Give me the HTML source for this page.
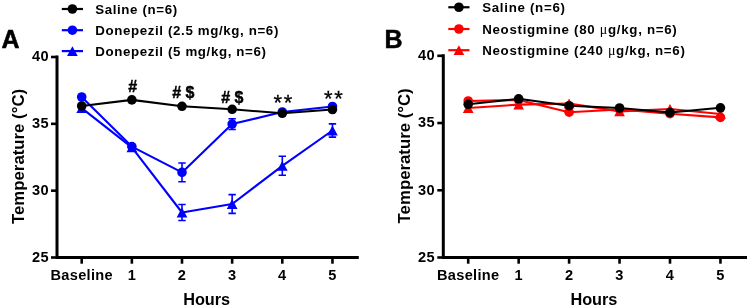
<!DOCTYPE html>
<html><head><meta charset="utf-8"><style>
html,body{margin:0;padding:0;background:#fff;}
svg{display:block;will-change:transform;}
text{font-family:"Liberation Sans",sans-serif;fill:#000;}
.tk{font-size:14.6px;font-weight:bold;letter-spacing:0.3px;}
.ht{font-size:16.3px;font-weight:bold;}
.yt{font-size:16.8px;font-weight:bold;}
.lg{font-size:13.3px;font-weight:bold;letter-spacing:0.63px;}
.mu{font-family:"Liberation Serif",serif;font-weight:normal;font-size:14px;}
.lgb{letter-spacing:0.7px;}
.pl{font-size:25px;font-weight:bold;stroke:#000;stroke-width:0.5px;}
.an{font-size:16px;font-weight:bold;stroke:#000;stroke-width:0.45px;}
.as{font-size:22px;letter-spacing:1.85px;stroke:#000;stroke-width:0.3px;}
</style></head><body>
<svg width="750" height="307" viewBox="0 0 750 307">
<path d="M57 55.5V257.5M55.5 257.5H358.8" stroke="#000" stroke-width="3" fill="none"/>
<path d="M51 57.00H57" stroke="#000" stroke-width="2.6"/>
<text transform="translate(48.80 61.40) scale(1.0 1.04)" class="tk" text-anchor="end">40</text>
<path d="M51 123.83H57" stroke="#000" stroke-width="2.6"/>
<text transform="translate(48.80 128.23) scale(1.0 1.04)" class="tk" text-anchor="end">35</text>
<path d="M51 190.67H57" stroke="#000" stroke-width="2.6"/>
<text transform="translate(48.80 195.07) scale(1.0 1.04)" class="tk" text-anchor="end">30</text>
<path d="M51 257.50H57" stroke="#000" stroke-width="2.6"/>
<text transform="translate(48.80 261.90) scale(1.0 1.04)" class="tk" text-anchor="end">25</text>
<path d="M81.70 257.5V263.7" stroke="#000" stroke-width="2.6"/>
<text transform="translate(81.70 280.00) scale(1.0 1.04)" class="tk" text-anchor="middle">Baseline</text>
<path d="M131.85 257.5V263.7" stroke="#000" stroke-width="2.6"/>
<text transform="translate(131.85 280.00) scale(1.0 1.04)" class="tk" text-anchor="middle">1</text>
<path d="M182.00 257.5V263.7" stroke="#000" stroke-width="2.6"/>
<text transform="translate(182.00 280.00) scale(1.0 1.04)" class="tk" text-anchor="middle">2</text>
<path d="M232.15 257.5V263.7" stroke="#000" stroke-width="2.6"/>
<text transform="translate(232.15 280.00) scale(1.0 1.04)" class="tk" text-anchor="middle">3</text>
<path d="M282.30 257.5V263.7" stroke="#000" stroke-width="2.6"/>
<text transform="translate(282.30 280.00) scale(1.0 1.04)" class="tk" text-anchor="middle">4</text>
<path d="M332.45 257.5V263.7" stroke="#000" stroke-width="2.6"/>
<text transform="translate(332.45 280.00) scale(1.0 1.04)" class="tk" text-anchor="middle">5</text>
<text transform="translate(206.65 304.70)" class="ht" text-anchor="middle">Hours</text>
<text transform="translate(23.70 156.45) rotate(-90)" class="yt" text-anchor="middle">Temperature (°C)</text>
<path d="M443.3 54.3V257.5M441.8 257.5H747" stroke="#000" stroke-width="3" fill="none"/>
<path d="M437.3 55.80H443.3" stroke="#000" stroke-width="2.6"/>
<text transform="translate(434.80 60.20) scale(1.0 1.04)" class="tk" text-anchor="end">40</text>
<path d="M437.3 123.03H443.3" stroke="#000" stroke-width="2.6"/>
<text transform="translate(434.80 127.43) scale(1.0 1.04)" class="tk" text-anchor="end">35</text>
<path d="M437.3 190.27H443.3" stroke="#000" stroke-width="2.6"/>
<text transform="translate(434.80 194.67) scale(1.0 1.04)" class="tk" text-anchor="end">30</text>
<path d="M437.3 257.50H443.3" stroke="#000" stroke-width="2.6"/>
<text transform="translate(434.80 261.90) scale(1.0 1.04)" class="tk" text-anchor="end">25</text>
<path d="M468.20 257.5V263.7" stroke="#000" stroke-width="2.6"/>
<text transform="translate(468.20 280.00) scale(1.0 1.04)" class="tk" text-anchor="middle">Baseline</text>
<path d="M518.65 257.5V263.7" stroke="#000" stroke-width="2.6"/>
<text transform="translate(518.65 280.00) scale(1.0 1.04)" class="tk" text-anchor="middle">1</text>
<path d="M569.10 257.5V263.7" stroke="#000" stroke-width="2.6"/>
<text transform="translate(569.10 280.00) scale(1.0 1.04)" class="tk" text-anchor="middle">2</text>
<path d="M619.55 257.5V263.7" stroke="#000" stroke-width="2.6"/>
<text transform="translate(619.55 280.00) scale(1.0 1.04)" class="tk" text-anchor="middle">3</text>
<path d="M670.00 257.5V263.7" stroke="#000" stroke-width="2.6"/>
<text transform="translate(670.00 280.00) scale(1.0 1.04)" class="tk" text-anchor="middle">4</text>
<path d="M720.45 257.5V263.7" stroke="#000" stroke-width="2.6"/>
<text transform="translate(720.45 280.00) scale(1.0 1.04)" class="tk" text-anchor="middle">5</text>
<text transform="translate(593.90 304.70)" class="ht" text-anchor="middle">Hours</text>
<text transform="translate(410.00 155.85) rotate(-90)" class="yt" text-anchor="middle">Temperature (°C)</text>
<polyline points="81.70,108.20 131.85,147.30 182.00,212.50 232.15,204.00 282.30,165.80 332.45,130.50" fill="none" stroke="#0000ff" stroke-width="2.1" stroke-linejoin="round"/>
<path d="M182.00 204.50V220.50M178.30 204.50H185.70M178.30 220.50H185.70" stroke="#0000ff" stroke-width="1.6" fill="none"/>
<path d="M232.15 194.60V213.40M228.45 194.60H235.85M228.45 213.40H235.85" stroke="#0000ff" stroke-width="1.6" fill="none"/>
<path d="M282.30 156.30V175.30M278.60 156.30H286.00M278.60 175.30H286.00" stroke="#0000ff" stroke-width="1.6" fill="none"/>
<path d="M332.45 123.90V137.10M328.75 123.90H336.15M328.75 137.10H336.15" stroke="#0000ff" stroke-width="1.6" fill="none"/>
<path d="M81.70 103.30L87.05 113.10L76.35 113.10Z" fill="#0000ff"/>
<path d="M131.85 142.40L137.20 152.20L126.50 152.20Z" fill="#0000ff"/>
<path d="M182.00 207.60L187.35 217.40L176.65 217.40Z" fill="#0000ff"/>
<path d="M232.15 199.10L237.50 208.90L226.80 208.90Z" fill="#0000ff"/>
<path d="M282.30 160.90L287.65 170.70L276.95 170.70Z" fill="#0000ff"/>
<path d="M332.45 125.60L337.80 135.40L327.10 135.40Z" fill="#0000ff"/>
<polyline points="81.70,97.00 131.85,146.60 182.00,172.40 232.15,124.10 282.30,112.00 332.45,106.50" fill="none" stroke="#0000ff" stroke-width="2.1" stroke-linejoin="round"/>
<path d="M182.00 163.00V181.80M178.30 163.00H185.70M178.30 181.80H185.70" stroke="#0000ff" stroke-width="1.6" fill="none"/>
<path d="M232.15 118.70V129.50M228.45 118.70H235.85M228.45 129.50H235.85" stroke="#0000ff" stroke-width="1.6" fill="none"/>
<circle cx="81.70" cy="97.00" r="4.8" fill="#0000ff"/>
<circle cx="131.85" cy="146.60" r="4.8" fill="#0000ff"/>
<circle cx="182.00" cy="172.40" r="4.8" fill="#0000ff"/>
<circle cx="232.15" cy="124.10" r="4.8" fill="#0000ff"/>
<circle cx="282.30" cy="112.00" r="4.8" fill="#0000ff"/>
<circle cx="332.45" cy="106.50" r="4.8" fill="#0000ff"/>
<polyline points="81.70,106.00 131.85,99.90 182.00,106.30 232.15,109.30 282.30,113.30 332.45,109.50" fill="none" stroke="#000000" stroke-width="2.1" stroke-linejoin="round"/>
<circle cx="81.70" cy="106.00" r="4.8" fill="#000000"/>
<circle cx="131.85" cy="99.90" r="4.8" fill="#000000"/>
<circle cx="182.00" cy="106.30" r="4.8" fill="#000000"/>
<circle cx="232.15" cy="109.30" r="4.8" fill="#000000"/>
<circle cx="282.30" cy="113.30" r="4.8" fill="#000000"/>
<circle cx="332.45" cy="109.50" r="4.8" fill="#000000"/>
<polyline points="468.20,108.00 518.65,104.60 569.10,103.50 619.55,111.40 670.00,109.00 720.45,114.00" fill="none" stroke="#ff0000" stroke-width="2.1" stroke-linejoin="round"/>
<path d="M468.20 103.10L473.55 112.90L462.85 112.90Z" fill="#ff0000"/>
<path d="M518.65 99.70L524.00 109.50L513.30 109.50Z" fill="#ff0000"/>
<path d="M569.10 98.60L574.45 108.40L563.75 108.40Z" fill="#ff0000"/>
<path d="M619.55 106.50L624.90 116.30L614.20 116.30Z" fill="#ff0000"/>
<path d="M670.00 104.10L675.35 113.90L664.65 113.90Z" fill="#ff0000"/>
<path d="M720.45 109.10L725.80 118.90L715.10 118.90Z" fill="#ff0000"/>
<polyline points="468.20,101.00 518.65,100.00 569.10,112.20 619.55,109.50 670.00,113.70 720.45,117.40" fill="none" stroke="#ff0000" stroke-width="2.1" stroke-linejoin="round"/>
<circle cx="468.20" cy="101.00" r="4.8" fill="#ff0000"/>
<circle cx="518.65" cy="100.00" r="4.8" fill="#ff0000"/>
<circle cx="569.10" cy="112.20" r="4.8" fill="#ff0000"/>
<circle cx="619.55" cy="109.50" r="4.8" fill="#ff0000"/>
<circle cx="670.00" cy="113.70" r="4.8" fill="#ff0000"/>
<circle cx="720.45" cy="117.40" r="4.8" fill="#ff0000"/>
<polyline points="468.20,104.30 518.65,98.80 569.10,105.70 619.55,108.00 670.00,112.50 720.45,107.80" fill="none" stroke="#000000" stroke-width="2.1" stroke-linejoin="round"/>
<circle cx="468.20" cy="104.30" r="4.8" fill="#000000"/>
<circle cx="518.65" cy="98.80" r="4.8" fill="#000000"/>
<circle cx="569.10" cy="105.70" r="4.8" fill="#000000"/>
<circle cx="619.55" cy="108.00" r="4.8" fill="#000000"/>
<circle cx="670.00" cy="112.50" r="4.8" fill="#000000"/>
<circle cx="720.45" cy="107.80" r="4.8" fill="#000000"/>
<text transform="translate(128.30 92.30)" class="an">#</text>
<text transform="translate(172.20 98.10)" class="an"># $</text>
<text transform="translate(221.20 102.60)" class="an"># $</text>
<text transform="translate(273.40 109.50)" class="as">**</text>
<text transform="translate(323.90 106.00)" class="as">**</text>
<path d="M61.8 9.00H83.0" stroke="#000000" stroke-width="2.2"/>
<circle cx="72.40" cy="9.00" r="4.8" fill="#000000"/>
<text transform="translate(95.20 13.50)" class="lg">Saline (n=6)</text>
<path d="M61.8 30.20H83.0" stroke="#0000ff" stroke-width="2.2"/>
<circle cx="72.40" cy="30.20" r="4.8" fill="#0000ff"/>
<text transform="translate(95.20 34.70)" class="lg">Donepezil (2.5 mg/kg, n=6)</text>
<path d="M61.8 51.10H83.0" stroke="#0000ff" stroke-width="2.2"/>
<path d="M72.40 46.20L77.75 56.00L67.05 56.00Z" fill="#0000ff"/>
<text transform="translate(95.20 55.60)" class="lg">Donepezil (5 mg/kg, n=6)</text>
<path d="M448.3 7.25H469.5" stroke="#000000" stroke-width="2.2"/>
<circle cx="458.90" cy="7.25" r="4.8" fill="#000000"/>
<text transform="translate(482.20 11.75)" class="lg lgb">Saline (n=6)</text>
<path d="M448.3 29.00H469.5" stroke="#ff0000" stroke-width="2.2"/>
<circle cx="458.90" cy="29.00" r="4.8" fill="#ff0000"/>
<text transform="translate(482.20 33.50)" class="lg lgb">Neostigmine (80 <tspan class="mu">μ</tspan>g/kg, n=6)</text>
<path d="M448.3 50.20H469.5" stroke="#ff0000" stroke-width="2.2"/>
<path d="M458.90 45.30L464.25 55.10L453.55 55.10Z" fill="#ff0000"/>
<text transform="translate(482.20 54.70)" class="lg lgb">Neostigmine (240 <tspan class="mu">μ</tspan>g/kg, n=6)</text>
<text transform="translate(1.60 47.60)" class="pl">A</text>
<text transform="translate(384.50 47.60)" class="pl">B</text>
</svg>
</body></html>
